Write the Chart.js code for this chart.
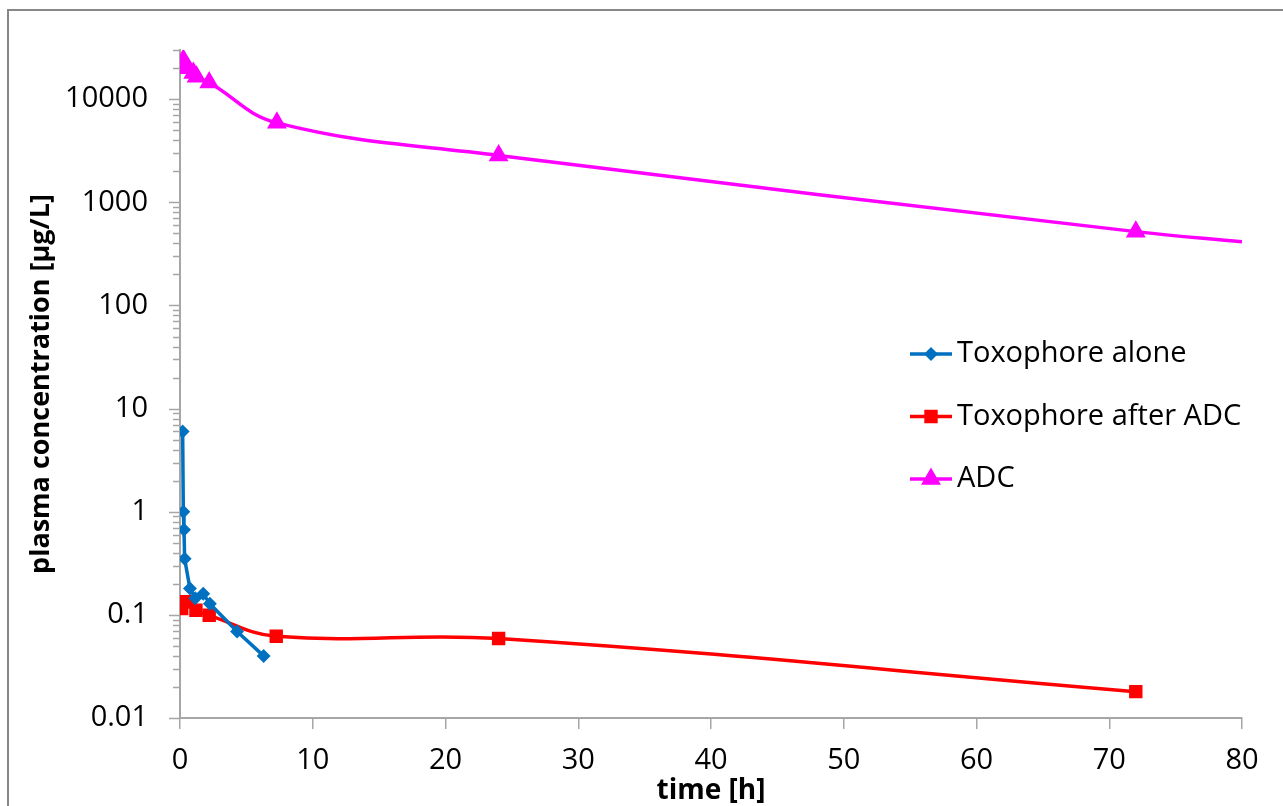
<!DOCTYPE html>
<html>
<head>
<meta charset="utf-8">
<script src="https://cdn.jsdelivr.net/npm/chart.js@4.4.1/dist/chart.umd.min.js"></script>
<style>
  html, body { margin: 0; padding: 0; background: #fff; }
  #wrap { width: 1283px; height: 806px; }
</style>
</head>
<body>
<div id="wrap"><canvas id="myChart" width="1283" height="806"></canvas></div>
<script>
// -------- Data --------
const toxAloneTime = [0.2, 0.25, 0.3, 0.35, 0.75, 1.15, 1.75, 2.25, 4.3, 6.3];
const toxAloneConc = [6.0, 1.0, 0.67, 0.35, 0.18, 0.145, 0.16, 0.128, 0.069, 0.04];

const toxAdcTime = [0.13, 0.25, 0.7, 1.2, 2.2, 7.25, 24, 72];
const toxAdcConc = [0.115, 0.134, 0.134, 0.111, 0.099, 0.062, 0.059, 0.018];

const adcTime = [0.1, 0.25, 0.6, 1.0, 1.25, 2.2, 7.3, 24, 72, 80];
const adcConc = [21000, 24000, 20000, 18000, 16500, 14500, 5900, 2850, 520, 415];

const seriesNames = ['Toxophore alone', 'Toxophore after ADC', 'ADC'];
const yLabelValues = [0.01, 0.1, 1, 10, 100, 1000, 10000];
const xTickValues = [0, 10, 20, 30, 40, 50, 60, 70, 80];

const FONT = "'Open Sans', sans-serif";
const AXIS_GRAY = '#a6a6a6';

const toPoints = (xs, ys) => xs.map((x, i) => ({ x, y: ys[i] }));

// -------- Plugins --------
const framePlugin = {
  id: 'frame',
  beforeDraw(chart) {
    const c = chart.ctx;
    c.save();
    c.fillStyle = '#fff';
    c.fillRect(0, 0, chart.width, chart.height);
    c.strokeStyle = '#878787';
    c.lineWidth = 2;
    c.strokeRect(8, 10, chart.width + 20, chart.height + 20);
    c.restore();
  }
};

// Excel style tick marks: long on decades, short on the minor steps
const yTickPlugin = {
  id: 'yTicks',
  afterDraw(chart) {
    const s = chart.scales.y;
    const c = chart.ctx;
    c.save();
    c.strokeStyle = AXIS_GRAY;
    c.lineWidth = 1.5;
    s.ticks.forEach(t => {
      const py = Math.round(s.getPixelForValue(t.value)) + 0.5;
      const len = yLabelValues.includes(t.value) ? 11 : 7;
      c.beginPath();
      c.moveTo(s.right - len, py);
      c.lineTo(s.right, py);
      c.stroke();
    });
    c.restore();
  }
};

const legendPlugin = {
  id: 'sideLegend',
  afterDraw(chart) {
    const c = chart.ctx;
    const x0 = 910, x1 = 952, y0 = 354, step = 62.5;
    chart.data.datasets.forEach((ds, i) => {
      const y = y0 + i * step;
      c.save();
      c.strokeStyle = ds.borderColor;
      c.lineWidth = ds.borderWidth;
      c.beginPath();
      c.moveTo(x0, y);
      c.lineTo(x1, y);
      c.stroke();
      c.fillStyle = ds.backgroundColor;
      Chart.helpers.drawPoint(c, {
        pointStyle: ds.pointStyle, rotation: 0,
        radius: ds.legendRadius, borderWidth: 1
      }, (x0 + x1) / 2, y);
      c.fillStyle = '#000';
      c.font = '29px ' + FONT;
      c.textBaseline = 'middle';
      c.textAlign = 'left';
      c.fillText(ds.label, x1 + 5, y);
      c.restore();
    });
  }
};

// -------- Chart --------
const ctx = document.getElementById('myChart').getContext('2d');

new Chart(ctx, {
  type: 'line',
  data: {
    datasets: [
      {
        label: seriesNames[0],
        data: toPoints(toxAloneTime, toxAloneConc),
        borderColor: '#0070c0',
        backgroundColor: '#0070c0',
        borderWidth: 3.5,
        pointStyle: 'rectRot',
        pointRadius: 4.5,
        legendRadius: 4.5,
        tension: 0
      },
      {
        label: seriesNames[1],
        data: toPoints(toxAdcTime, toxAdcConc),
        borderColor: '#ff0000',
        backgroundColor: '#ff0000',
        borderWidth: 3.5,
        pointStyle: 'rect',
        pointRadius: 7,
        legendRadius: 7,
        tension: 0.4
      },
      {
        label: seriesNames[2],
        data: toPoints(adcTime, adcConc),
        borderColor: '#ff00ff',
        backgroundColor: '#ff00ff',
        borderWidth: 3.5,
        pointStyle: 'triangle',
        pointRadius: c => (c.dataIndex === adcTime.length - 1 ? 0 : 8),
        legendRadius: 8,
        tension: 0.4
      }
    ]
  },
  options: {
    responsive: false,
    animation: false,
    layout: { padding: { left: 0, top: 50, right: 41, bottom: 0 } },
    plugins: {
      legend: { display: false },
      tooltip: { enabled: false }
    },
    scales: {
      x: {
        type: 'linear',
        min: 0,
        max: 80,
        afterBuildTicks: s => { s.ticks = xTickValues.map(v => ({ value: v })); },
        afterFit: s => { s.height = 88; },
        border: { color: AXIS_GRAY, width: 2 },
        grid: { drawOnChartArea: false, tickLength: 11, color: AXIS_GRAY, lineWidth: 1.5 },
        ticks: { color: '#000', font: { family: FONT, size: 29 }, padding: 14, maxRotation: 0 },
        title: {
          display: true, text: 'time [h]', color: '#000',
          font: { family: FONT, size: 28, weight: 'bold', lineHeight: 1.0 },
          padding: { top: 0, bottom: 1 }
        }
      },
      y: {
        type: 'logarithmic',
        min: 0.01,
        max: 30000,
        afterBuildTicks: s => {
          const ticks = [];
          yLabelValues.forEach(v => {
            for (let k = 1; k <= 9; k++) {
              const val = Number((v * k).toPrecision(6));
              if (val <= 30000) ticks.push({ value: val });
            }
          });
          s.ticks = ticks;
        },
        afterFit: s => { s.width = 180; },
        border: { color: AXIS_GRAY, width: 2 },
        grid: { drawOnChartArea: false, drawTicks: false },
        ticks: {
          autoSkip: false,
          color: '#000',
          font: { family: FONT, size: 29 },
          padding: 32,
          callback: v => (yLabelValues.includes(v) ? String(v) : '')
        },
        title: {
          display: true, text: 'plasma concentration [µg/L]', color: '#000',
          font: { family: FONT, size: 27, weight: 'bold', lineHeight: 1.2 },
          padding: { top: 25, bottom: 0 }
        }
      }
    }
  },
  plugins: [framePlugin, yTickPlugin, legendPlugin]
});
</script>
</body>
</html>
